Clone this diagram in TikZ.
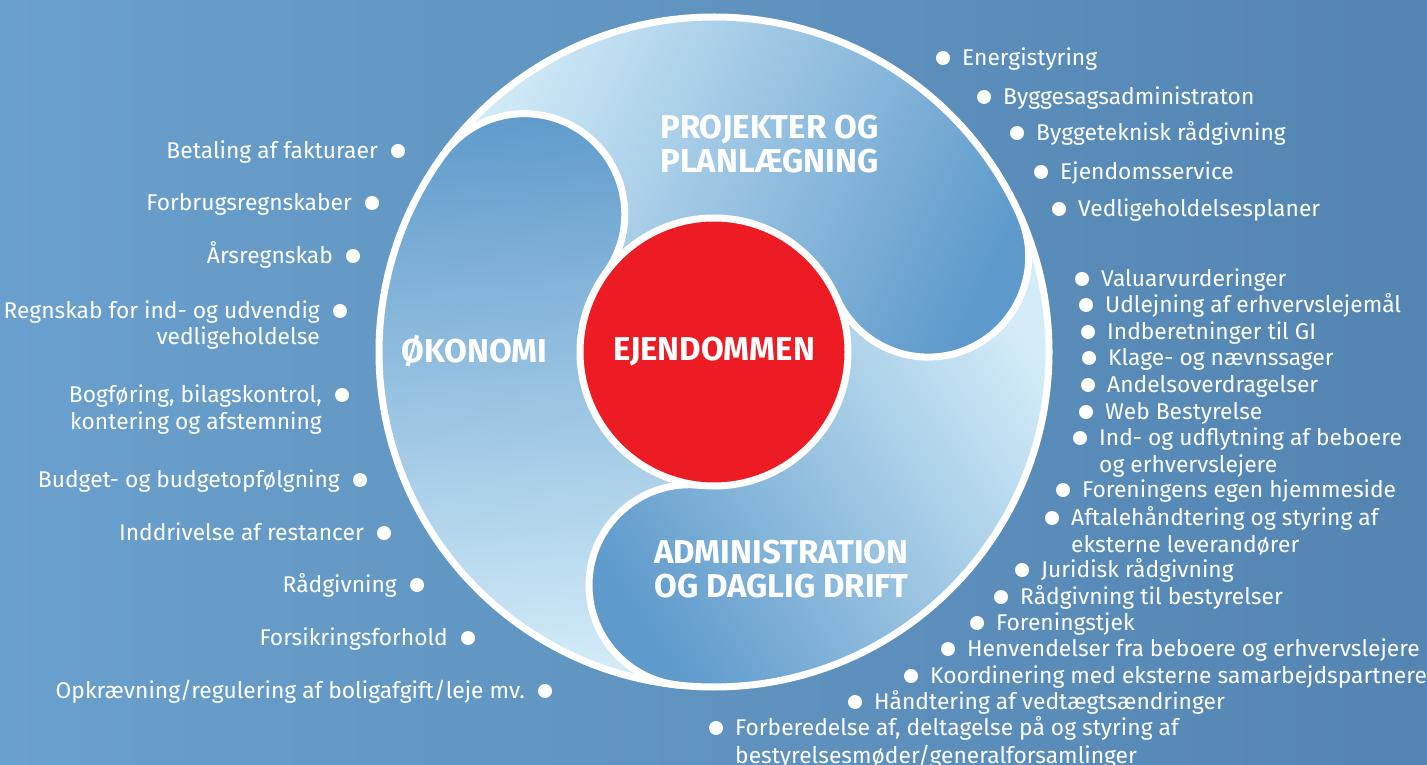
\documentclass[tikz,border=0pt]{standalone}
\usepackage{fontspec}
\newfontfamily\firaf{Fira Sans}
\definecolor{bgL}{HTML}{6AA0CD}
\definecolor{bgR}{HTML}{5485B2}
\definecolor{lobeDark}{HTML}{5E9ACB}
\definecolor{lobeLight}{HTML}{D3ECF8}
\definecolor{ejred}{HTML}{ED1C24}
\newcommand\RItem[4]{%
  \node[dotb] (#1d) at (#2,764-#3) {};
  \node[itm,anchor=base west] (#1) at (#2+19,756.5-#3) {#4};}
\newcommand\LItem[4]{%
  \node[dotb] (#1d) at (#2,764-#3) {};
  \node[itm,anchor=base east] (#1) at (#2-20,756.5-#3) {#4};}
\begin{document}
\begin{tikzpicture}[x=1pt,y=1pt,
  itm/.style={text=white,inner sep=0pt,font=\firaf\fontsize{22.8}{27}\selectfont},
  dotb/.style={circle,fill=white,inner sep=0pt,minimum size=14},
  cat/.style={text=white,inner sep=0pt,font=\firaf\bfseries\fontsize{33}{38}\selectfont},
  divider/.style={draw=white,line width=7}]
\useasboundingbox (0,0) rectangle (1427,764);
\shade[left color=bgL,right color=bgR] (0,0) rectangle (1427,764);
\coordinate (O) at (714,412);
\begin{scope}[shift={(O)}]
  % OKONOMI region
  \shade[top color=lobeLight,bottom color=lobeDark,shading angle=184]
    (144:134) arc[start angle=324,end angle=504,radius=100.5]
    arc[start angle=144,end angle=264,radius=335]
    arc[start angle=264,end angle=84,radius=100.5]
    arc[start angle=264,end angle=144,radius=134] -- cycle;
  % PROJEKTER region
  \shade[top color=lobeLight,bottom color=lobeDark,shading angle=64]
    (24:134) arc[start angle=204,end angle=384,radius=100.5]
    arc[start angle=24,end angle=144,radius=335]
    arc[start angle=144,end angle=-36,radius=100.5]
    arc[start angle=144,end angle=24,radius=134] -- cycle;
  % ADMINISTRATION region
  \shade[top color=lobeLight,bottom color=lobeDark,shading angle=-56]
    (264:134) arc[start angle=444,end angle=624,radius=100.5]
    arc[start angle=264,end angle=384,radius=335]
    arc[start angle=384,end angle=204,radius=100.5]
    arc[start angle=384,end angle=264,radius=134] -- cycle;
  % white lines
  \draw[divider] (0,0) circle[radius=335];
  \draw[divider] (144:134) arc[start angle=324,end angle=504,radius=100.5];
  \draw[divider] (24:134) arc[start angle=204,end angle=384,radius=100.5];
  \draw[divider] (264:134) arc[start angle=444,end angle=624,radius=100.5];
\end{scope}
\node[circle,fill=ejred,draw=white,line width=7,minimum size=268,inner sep=0pt,
  text=white,font=\firaf\bfseries\fontsize{33}{38}\selectfont] (ej) at (O) {EJENDOMMEN};
\node[cat,anchor=base west] (proj1) at (660,764-139) {PROJEKTER OG};
\node[cat,anchor=base west] (proj2) at (660,764-173) {PLANLÆGNING};
\node[cat,anchor=base west] (oko) at (401,764-363) {ØKONOMI};
\node[cat,anchor=base west] (adm1) at (654,764-563) {ADMINISTRATION};
\node[cat,anchor=base west] (adm2) at (654,764-597) {OG DAGLIG DRIFT};
% right items
\RItem{r1}{943}{58}{Energistyring}
\RItem{r2}{984}{97}{Byggesagsadministraton}
\RItem{r3}{1017}{133}{Byggeteknisk rådgivning}
\RItem{r4}{1041}{172}{Ejendomsservice}
\RItem{r5}{1059}{209}{Vedligeholdelsesplaner}
\RItem{r6}{1082}{279}{Valuarvurderinger}
\RItem{r7}{1086}{305}{Udlejning af erhvervslejemål}
\RItem{r8}{1088}{332}{Indberetninger til GI}
\RItem{r9}{1089}{358}{Klage- og nævnssager}
\RItem{r10}{1088}{385}{Andelsoverdragelser}
\RItem{r11}{1086}{412}{Web Bestyrelse}
\RItem{r12}{1080}{438}{Ind- og udflytning af beboere}
\node[itm,anchor=base west] (r12b) at (1099,756.5-465) {og erhvervslejere};
\RItem{r13}{1063}{490}{Foreningens egen hjemmeside}
\RItem{r14}{1052}{518}{Aftalehåndtering og styring af}
\node[itm,anchor=base west] (r14b) at (1071,756.5-545) {eksterne leverandører};
\RItem{r15}{1022}{570}{Juridisk rådgivning}
\RItem{r16}{1001}{597}{Rådgivning til bestyrelser}
\RItem{r17}{977}{623}{Foreningstjek}
\RItem{r18}{948}{649}{Henvendelser fra beboere og erhvervslejere}
\RItem{r19}{911}{676}{Koordinering med eksterne samarbejdspartnere}
\RItem{r20}{855}{702}{Håndtering af vedtægtsændringer}
\RItem{r21}{716}{728}{Forberedelse af, deltagelse på og styring af}
\node[itm,anchor=base west] (r21b) at (735,756.5-756) {bestyrelsesmøder/generalforsamlinger};
% left items
\LItem{l1}{398}{151}{Betaling af fakturaer}
\LItem{l2}{372}{203}{Forbrugsregnskaber}
\LItem{l3}{353}{256}{Årsregnskab}
\LItem{l4}{340}{311}{Regnskab for ind- og udvendig}
\node[itm,anchor=base east] (l4b) at (320,756.5-337) {vedligeholdelse};
\LItem{l5}{342}{395}{Bogføring, bilagskontrol,}
\node[itm,anchor=base east] (l5b) at (322,756.5-422) {kontering og afstemning};
\LItem{l6}{360}{480}{Budget- og budgetopfølgning}
\LItem{l7}{384}{533}{Inddrivelse af restancer}
\LItem{l8}{417}{585}{Rådgivning}
\LItem{l9}{468}{638}{Forsikringsforhold}
\LItem{l10}{545}{691}{Opkrævning/regulering af boligafgift/leje mv.}
\end{tikzpicture}
\end{document}
